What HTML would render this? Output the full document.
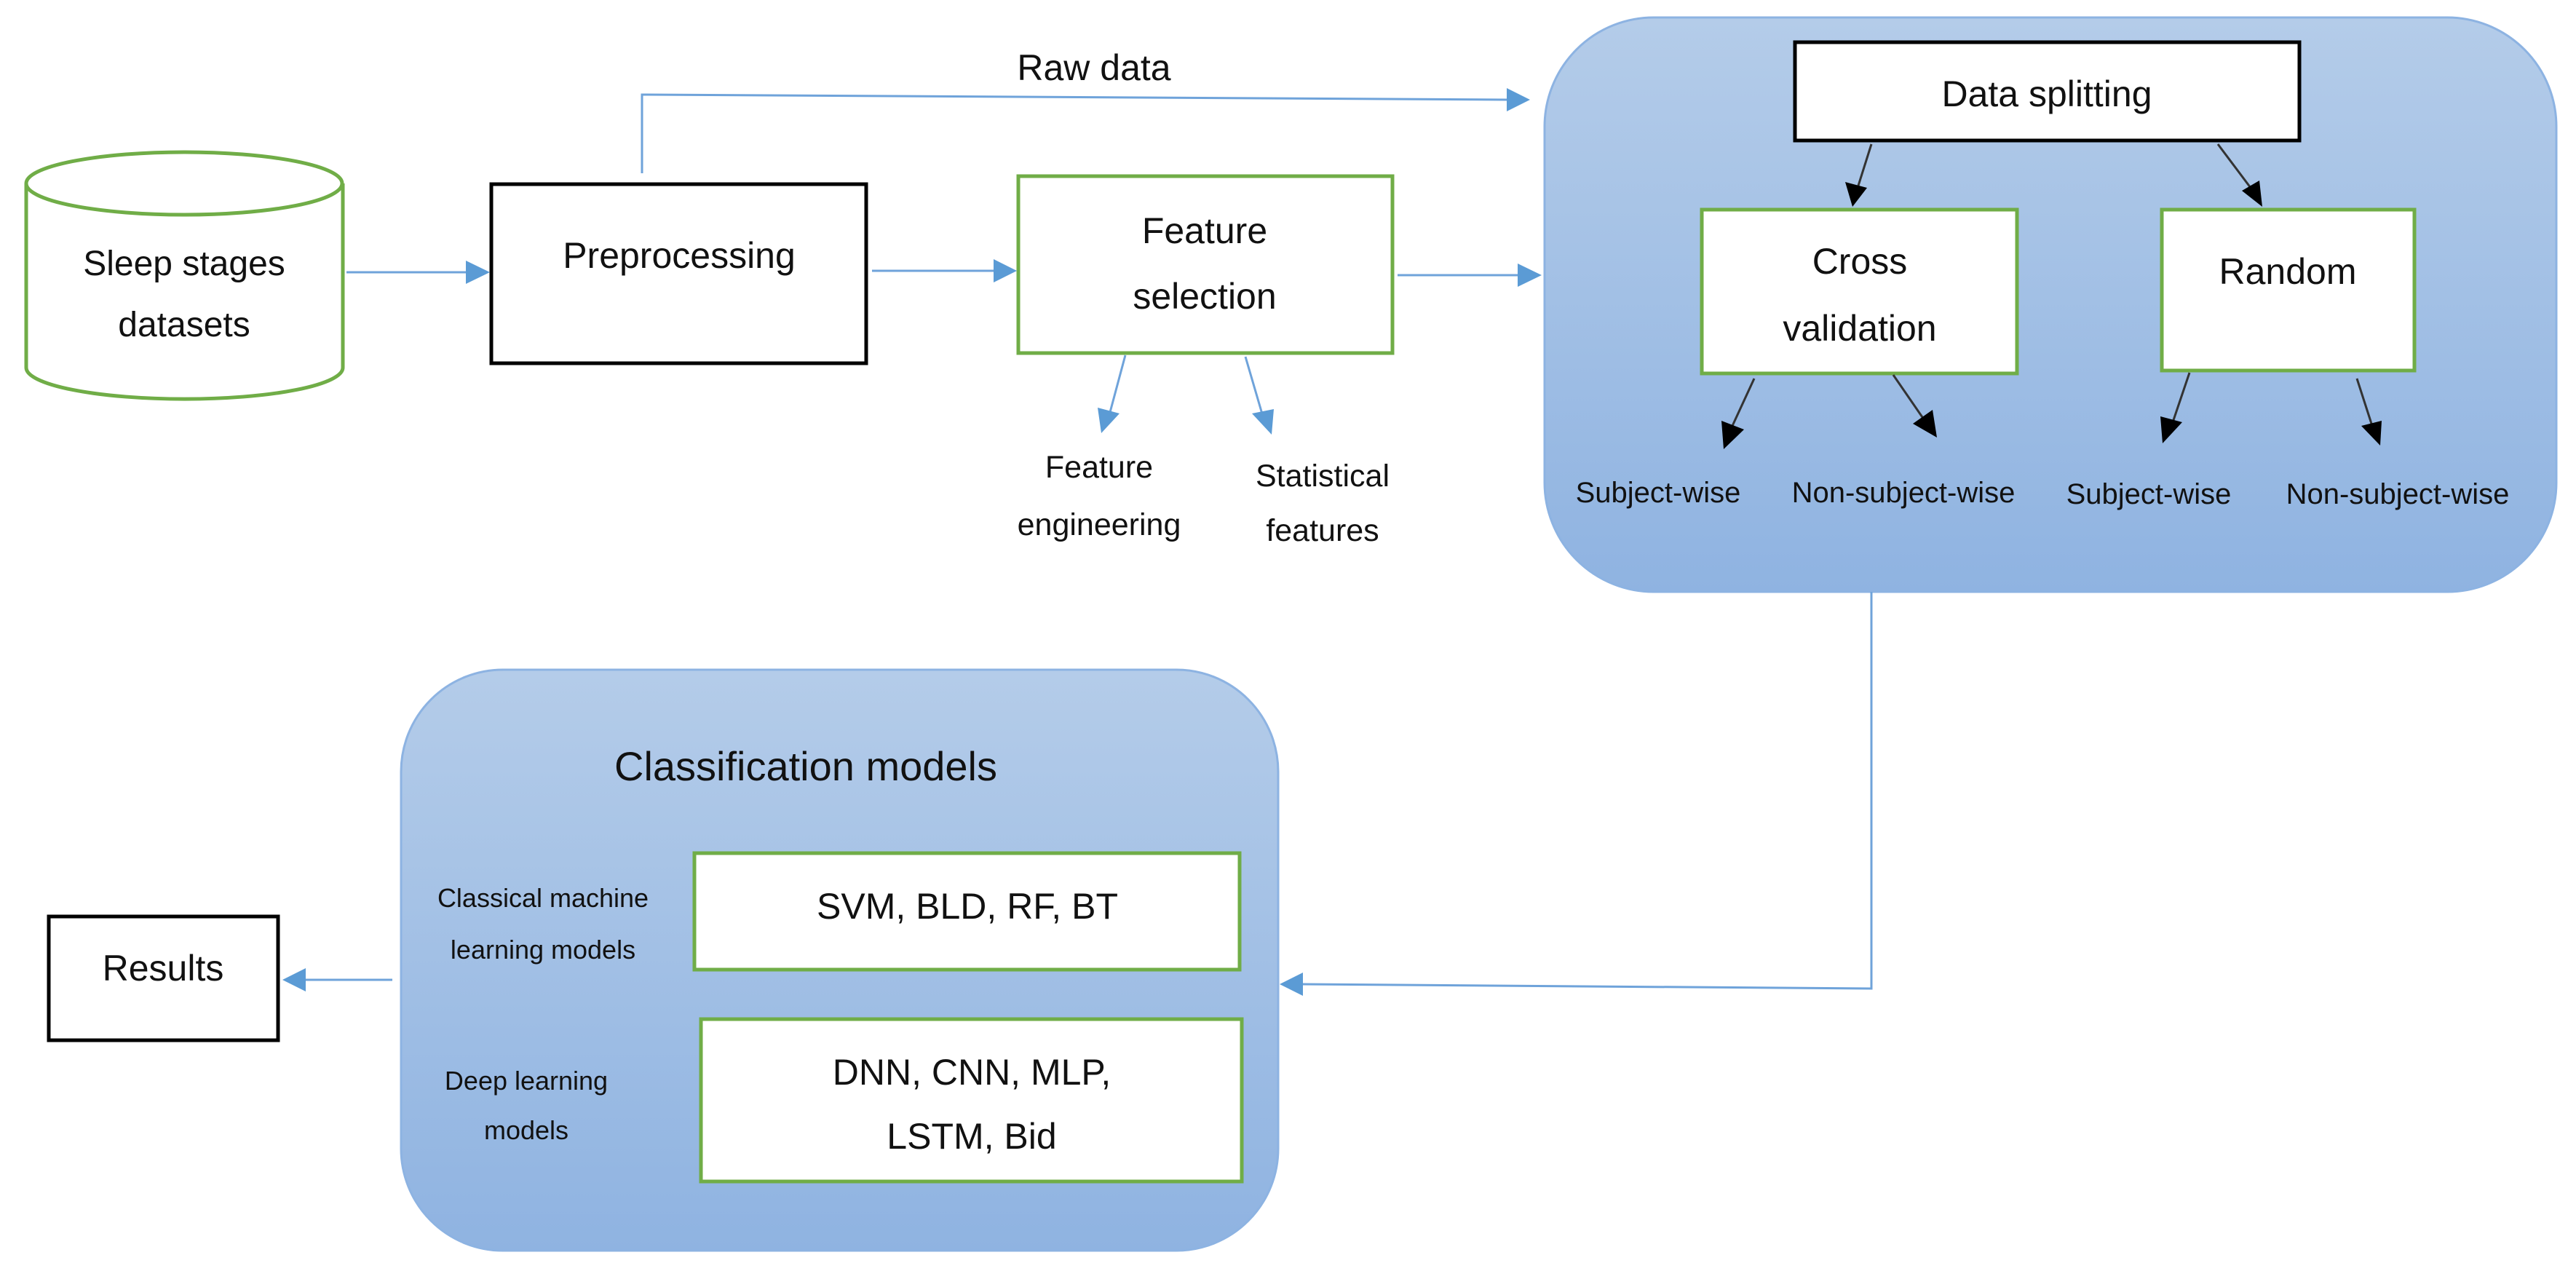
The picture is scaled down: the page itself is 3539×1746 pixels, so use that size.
<!DOCTYPE html>
<html><head><meta charset="utf-8"><style>
html,body{margin:0;padding:0;background:#fff;}
svg{display:block;}
text{font-family:"Liberation Sans",sans-serif;fill:#111;}
</style></head><body>
<svg width="3539" height="1746" viewBox="0 0 3539 1746" xmlns="http://www.w3.org/2000/svg">
<defs>
<linearGradient id="bg" x1="0" y1="0" x2="0" y2="1">
<stop offset="0" stop-color="#b4cce9"/><stop offset="1" stop-color="#8fb3e1"/>
</linearGradient>
<marker id="ab" markerWidth="10" markerHeight="10" refX="9" refY="5" orient="auto" markerUnits="userSpaceOnUse" viewBox="0 0 10 10">
</marker>
</defs>

<!-- big data splitting container -->
<rect x="2122" y="24" width="1390" height="789" rx="150" fill="url(#bg)" stroke="#8db3e2" stroke-width="3"/>
<!-- classification container -->
<rect x="551" y="920" width="1205" height="798" rx="140" fill="url(#bg)" stroke="#8db3e2" stroke-width="3"/>

<!-- cylinder -->
<path d="M36 252 L36 505 A217 43 0 0 0 471 505 L471 252" fill="#fff" stroke="#70ad47" stroke-width="5"/>
<ellipse cx="253" cy="252" rx="217" ry="43" fill="#fff" stroke="#70ad47" stroke-width="5"/>
<text x="253" y="378" font-size="48" text-anchor="middle">Sleep stages</text>
<text x="253" y="462" font-size="48" text-anchor="middle">datasets</text>

<!-- preprocessing -->
<rect x="675" y="253" width="515" height="246" fill="#fff" stroke="#000" stroke-width="5"/>
<text x="933" y="368" font-size="50" text-anchor="middle">Preprocessing</text>

<!-- feature selection -->
<rect x="1399" y="242" width="514" height="243" fill="#fff" stroke="#70ad47" stroke-width="5"/>
<text x="1655" y="334" font-size="50" text-anchor="middle">Feature</text>
<text x="1655" y="424" font-size="50" text-anchor="middle">selection</text>

<!-- blue arrows -->
<g stroke="#6fa3da" stroke-width="3" fill="none">
<line x1="476" y1="374" x2="640" y2="374"/>
<line x1="1198" y1="372" x2="1365" y2="372"/>
<line x1="1920" y1="378" x2="2085" y2="378"/>
<polyline points="882,238 882,130 2070,137"/>
<line x1="1546" y1="488" x2="1524" y2="570"/>
<line x1="1711" y1="490" x2="1735" y2="572"/>
<polyline points="2571,813 2571,1358 1790,1352"/>
<line x1="539" y1="1346" x2="420" y2="1346"/>
</g>
<g fill="#5b9bd5">
<polygon points="673,374 640,358 640,390"/>
<polygon points="1397,372 1365,356 1365,388"/>
<polygon points="2118,378 2085,362 2085,394"/>
<polygon points="2102,137 2070,121 2070,153"/>
<polygon points="1513,595 1508,560 1538,568"/>
<polygon points="1747,597 1720,568 1750,562"/>
<polygon points="1758,1352 1790,1336 1790,1368"/>
<polygon points="388,1346 420,1330 420,1362"/>
</g>

<text x="1503" y="110" font-size="50" text-anchor="middle">Raw data</text>
<text x="1510" y="656" font-size="43" text-anchor="middle">Feature</text>
<text x="1510" y="735" font-size="43" text-anchor="middle">engineering</text>
<text x="1817" y="668" font-size="43" text-anchor="middle">Statistical</text>
<text x="1817" y="743" font-size="43" text-anchor="middle">features</text>

<!-- data splitting -->
<rect x="2466" y="58" width="693" height="135" fill="#fff" stroke="#000" stroke-width="5"/>
<text x="2812" y="146" font-size="50" text-anchor="middle">Data splitting</text>
<rect x="2338" y="288" width="433" height="225" fill="#fff" stroke="#70ad47" stroke-width="5"/>
<text x="2555" y="376" font-size="50" text-anchor="middle">Cross</text>
<text x="2555" y="468" font-size="50" text-anchor="middle">validation</text>
<rect x="2970" y="288" width="347" height="221" fill="#fff" stroke="#70ad47" stroke-width="5"/>
<text x="3143" y="390" font-size="50" text-anchor="middle">Random</text>

<!-- black arrows -->
<g stroke="#333" stroke-width="3">
<line x1="2571" y1="198" x2="2553" y2="255"/>
<line x1="3047" y1="198" x2="3092" y2="258"/>
<line x1="2410" y1="520" x2="2380" y2="585"/>
<line x1="2601" y1="515" x2="2643" y2="576"/>
<line x1="3008" y1="512" x2="2985" y2="580"/>
<line x1="3238" y1="520" x2="3258" y2="582"/>
</g>
<g fill="#000">
<polygon points="2545,284 2535,250 2565,258"/>
<polygon points="3108,284 3080,262 3104,248"/>
<polygon points="2368,617 2365,578 2396,590"/>
<polygon points="2661,601 2628,582 2655,563"/>
<polygon points="2971,609 2968,572 2998,580"/>
<polygon points="3270,612 3244,585 3272,578"/>
</g>
<g font-size="40" text-anchor="middle">
<text x="2278" y="690">Subject-wise</text>
<text x="2615" y="690">Non-subject-wise</text>
<text x="2952" y="692">Subject-wise</text>
<text x="3294" y="692">Non-subject-wise</text>
</g>

<!-- classification -->
<text x="1107" y="1072" font-size="56" text-anchor="middle">Classification models</text>
<rect x="954" y="1172" width="749" height="160" fill="#fff" stroke="#70ad47" stroke-width="5"/>
<text x="1329" y="1262" font-size="50" text-anchor="middle">SVM, BLD, RF, BT</text>
<rect x="963" y="1400" width="743" height="223" fill="#fff" stroke="#70ad47" stroke-width="5"/>
<text x="1335" y="1490" font-size="50" text-anchor="middle">DNN, CNN, MLP,</text>
<text x="1335" y="1578" font-size="50" text-anchor="middle">LSTM, Bid</text>
<g font-size="36" text-anchor="middle">
<text x="746" y="1246">Classical machine</text>
<text x="746" y="1317">learning models</text>
<text x="723" y="1497">Deep learning</text>
<text x="723" y="1565">models</text>
</g>

<!-- results -->
<rect x="67" y="1259" width="315" height="170" fill="#fff" stroke="#000" stroke-width="5"/>
<text x="224" y="1347" font-size="50" text-anchor="middle">Results</text>
</svg>
</body></html>
